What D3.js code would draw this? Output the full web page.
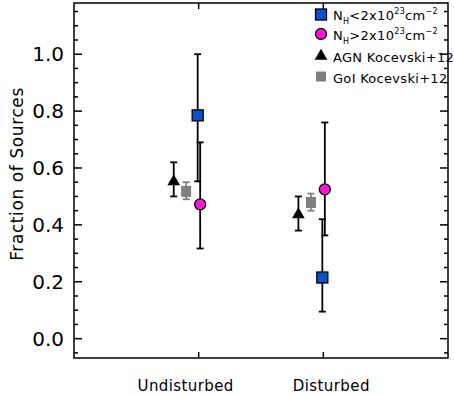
<!DOCTYPE html>
<html>
<head>
<meta charset="UTF-8">
<script src="https://d3js.org/d3.v7.min.js"></script>
<style>
  body { margin: 0; background: #fff; }
  text { font-family: "DejaVu Sans", sans-serif; fill: #000; }
</style>
</head>
<body>
<script>
// categories and values
var categories = ["Undisturbed", "Disturbed"];
var catPos = [1, 2];

// N_H < 2e23 (blue squares)
var lowNH = [0.785, 0.215];
var lowNHup = [1.00, 0.42];
var lowNHlo = [0.553, 0.095];

// N_H > 2e23 (magenta circles)
var highNH = [0.472, 0.525];
var highNHup = [0.69, 0.76];
var highNHlo = [0.317, 0.363];

// AGN Kocevski+12 (black triangles)
var agnK = [0.556, 0.44];
var agnKup = [0.62, 0.50];
var agnKlo = [0.50, 0.38];

// GoI Kocevski+12 (grey squares)
var goiK = [0.518, 0.479];
var goiKup = [0.55, 0.51];
var goiKlo = [0.49, 0.45];

var yTicks = [0.0, 0.2, 0.4, 0.6, 0.8, 1.0];

var W = 454, H = 396;
var margin = {left: 74, right: 6, top: 3, bottom: 38};

var svg = d3.select("body").append("svg")
    .attr("width", W)
    .attr("height", H);

var x = d3.scaleLinear().domain([0, 3]).range([margin.left, W - margin.right]);
var y = d3.scaleLinear().domain([-0.068, 1.18]).range([H - margin.bottom, margin.top]);

// frame
svg.append("rect")
    .attr("x", x(0)).attr("y", y(1.18))
    .attr("width", x(3) - x(0)).attr("height", y(-0.068) - y(1.18))
    .attr("fill", "none").attr("stroke", "#000").attr("stroke-width", 1.5);

// y ticks, both sides
var minor = d3.range(-0.05, 1.18, 0.05);
var major = yTicks;
[[x(0), 1], [x(3), -1]].forEach(function(s) {
  svg.selectAll(null).data(minor).enter().append("line")
    .attr("x1", s[0]).attr("x2", function(d) {
      var isMajor = Math.abs(Math.round(d * 5) - d * 5) < 1e-6;
      return s[0] + s[1] * (isMajor ? 8 : 4);
    })
    .attr("y1", function(d) { return y(d); })
    .attr("y2", function(d) { return y(d); })
    .attr("stroke", "#000").attr("stroke-width", 1.5);
});

svg.selectAll(".ylab").data(major).enter().append("text")
    .attr("x", x(0) - 10)
    .attr("y", function(d) { return y(d) + 7; })
    .attr("text-anchor", "end")
    .attr("font-size", 20)
    .text(function(d) { return d.toFixed(1); });

svg.append("text")
    .attr("transform", "translate(23," + 174 + ") rotate(-90)")
    .attr("text-anchor", "middle")
    .attr("font-size", 17)
    .attr("letter-spacing", 0.6)
    .text("Fraction of Sources");

// x ticks, bottom and top
catPos.forEach(function(c) {
  svg.append("line").attr("x1", x(c)).attr("x2", x(c))
    .attr("y1", y(-0.068)).attr("y2", y(-0.068) - 6)
    .attr("stroke", "#000").attr("stroke-width", 1.5);
  svg.append("line").attr("x1", x(c)).attr("x2", x(c))
    .attr("y1", y(1.18)).attr("y2", y(1.18) + 6)
    .attr("stroke", "#000").attr("stroke-width", 1.5);
});
var xLabOffset = [-13, 8];
svg.selectAll(".xlab").data(categories).enter().append("text")
    .attr("x", function(d, i) { return x(catPos[i]) + xLabOffset[i]; })
    .attr("y", 391)
    .attr("text-anchor", "middle")
    .attr("font-size", 15)
    .attr("letter-spacing", 0.4)
    .text(function(d) { return d; });

// error bars + markers
function errbars(vals, up, lo, dx, color, cap, width) {
  var g = svg.append("g").attr("stroke", color).attr("stroke-width", width);
  vals.forEach(function(v, i) {
    var cx = x(catPos[i] + dx);
    g.append("line").attr("x1", cx).attr("x2", cx).attr("y1", y(up[i])).attr("y2", y(lo[i]));
    g.append("line").attr("x1", cx - cap).attr("x2", cx + cap).attr("y1", y(up[i])).attr("y2", y(up[i]));
    g.append("line").attr("x1", cx - cap).attr("x2", cx + cap).attr("y1", y(lo[i])).attr("y2", y(lo[i]));
  });
}

var triPath = d3.symbol().type(d3.symbolTriangle).size(70);

// Kocevski AGN
errbars(agnK, agnKup, agnKlo, -0.2, "#000", 3.5, 1.8);
svg.selectAll(".tri").data(agnK).enter().append("path")
    .attr("d", triPath)
    .attr("transform", function(d, i) { return "translate(" + x(catPos[i] - 0.2) + "," + (y(d) + 1) + ")"; })
    .attr("fill", "#000");

// Kocevski GoI
errbars(goiK, goiKup, goiKlo, -0.1, "#808080", 3.5, 1.8);
svg.selectAll(".goi").data(goiK).enter().append("rect")
    .attr("x", function(d, i) { return x(catPos[i] - 0.1) - 4.5; })
    .attr("y", function(d) { return y(d) - 5; })
    .attr("width", 9).attr("height", 10)
    .attr("fill", "#808080").attr("stroke", "#6e6e6e").attr("stroke-width", 0.8);

// high N_H
errbars(highNH, highNHup, highNHlo, 0.012, "#000", 3.5, 1.8);
// low N_H
errbars(lowNH, lowNHup, lowNHlo, -0.008, "#000", 3.5, 1.8);

svg.selectAll(".hi").data(highNH).enter().append("circle")
    .attr("cx", function(d, i) { return x(catPos[i] + 0.012); })
    .attr("cy", function(d) { return y(d); })
    .attr("r", 5.5)
    .attr("fill", "#ff14dc").attr("stroke", "#000").attr("stroke-width", 1.3);

svg.selectAll(".lo").data(lowNH).enter().append("rect")
    .attr("x", function(d, i) { return x(catPos[i] - 0.008) - 5.5; })
    .attr("y", function(d) { return y(d) - 5.5; })
    .attr("width", 11).attr("height", 11)
    .attr("fill", "#0a50cc").attr("stroke", "#000").attr("stroke-width", 1.3);

// legend
var lx = 321, tx = 333;
var lg = svg.append("g");
lg.append("rect").attr("x", lx - 5.5).attr("y", 9).attr("width", 11).attr("height", 11)
    .attr("fill", "#0a50cc").attr("stroke", "#000").attr("stroke-width", 1.3);
lg.append("circle").attr("cx", lx).attr("cy", 34).attr("r", 5.5)
    .attr("fill", "#ff14dc").attr("stroke", "#000").attr("stroke-width", 1.3);
lg.append("path").attr("d", triPath).attr("transform", "translate(" + lx + ",56)").attr("fill", "#000");
lg.append("rect").attr("x", lx - 4.5).attr("y", 72).attr("width", 9).attr("height", 9)
    .attr("fill", "#808080").attr("stroke", "#6e6e6e").attr("stroke-width", 0.8);

function nhLabel(yy, sign) {
  var t = lg.append("text").attr("x", tx).attr("y", yy).attr("font-size", 13).attr("letter-spacing", 0.3);
  t.append("tspan").text("N");
  t.append("tspan").attr("font-size", 8).attr("dy", 4).text("H");
  t.append("tspan").attr("dy", -4).text(sign + "2x10");
  t.append("tspan").attr("font-size", 8).attr("dy", -6).text("23");
  t.append("tspan").attr("dy", 6).text("cm");
  t.append("tspan").attr("font-size", 8).attr("dy", -6).text("\u22122");
}
nhLabel(20, "<");
nhLabel(40, ">");
lg.append("text").attr("x", tx).attr("y", 62).attr("font-size", 13).attr("letter-spacing", 0.3)
    .text("AGN Kocevski+12");
lg.append("text").attr("x", tx).attr("y", 83).attr("font-size", 13).attr("letter-spacing", 0.3)
    .text("GoI Kocevski+12");
</script>
</body>
</html>
